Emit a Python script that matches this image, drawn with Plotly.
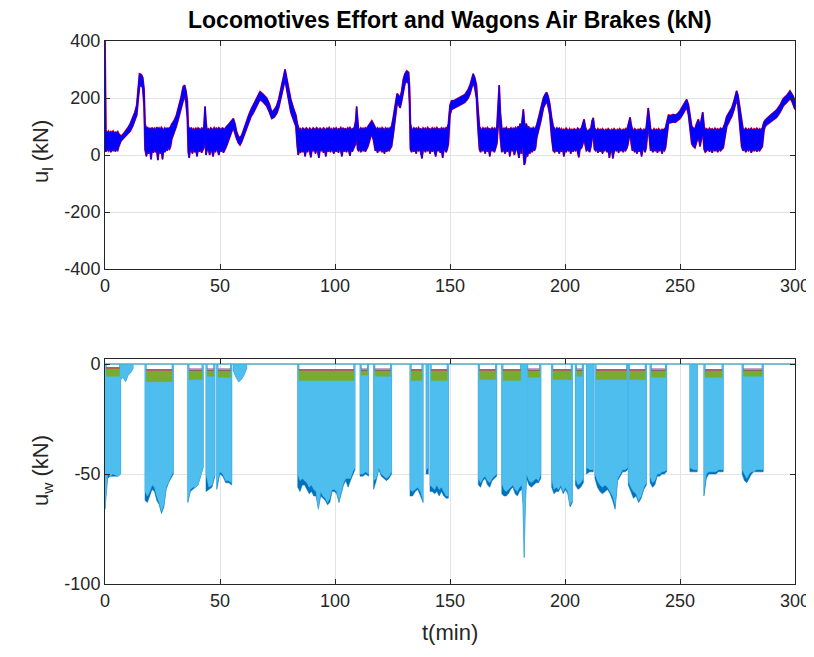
import numpy as np
import plotly.graph_objects as go

# ---------------- Locomotive effort (kN): upper / lower envelope of the noisy traces
t_loco = [
    0, 0.4, 1, 1.5, 2, 2.5, 3, 3.5, 4, 4.5,
    5, 5.5, 6, 6.5, 7, 8, 9, 10, 11, 12,
    13, 13.8, 14.5, 15, 15.8, 16.4, 17, 17.4, 18, 18.5,
    19, 19.5, 20, 20.5, 21, 21.5, 22, 22.5, 23, 23.5,
    24, 24.5, 25, 25.5, 26, 26.5, 27, 27.5, 28, 28.5,
    29, 30, 31, 32, 33, 34, 34.6, 35.2, 35.8, 36.2,
    36.6, 37, 37.5, 38, 38.5, 39, 39.5, 40, 40.5, 41,
    41.5, 42, 42.5, 43, 43.5, 43.9, 44.3, 45, 45.5, 46,
    46.5, 47, 47.5, 48, 48.5, 49, 49.5, 50, 50.5, 51,
    51.5, 52, 52.5, 53, 54, 55, 55.8, 56.5, 57.2, 58,
    58.7, 59.5, 60.5, 61.6, 62.5, 63.5, 64.5, 65.5, 66.5, 67.4,
    68.5, 69.5, 70.3, 71.5, 72.5, 73.5, 74.6, 75.5, 76.8, 77.6,
    78.3, 79, 79.7, 80.8, 81.9, 83, 83.6, 84, 84.5, 85,
    85.5, 86, 86.5, 87, 87.5, 88, 88.5, 89, 89.5, 90,
    90.5, 91, 91.5, 92, 92.5, 93, 93.5, 94, 94.5, 95,
    95.5, 96, 96.5, 97, 97.5, 98, 98.5, 99, 99.5, 100,
    100.5, 101, 101.5, 102, 102.5, 103, 103.5, 104, 104.5, 105,
    105.5, 106, 106.5, 107, 107.5, 108, 108.5, 109, 109.4, 109.8,
    110.2, 110.7, 111.2, 111.7, 112.2, 112.7, 113.2, 113.7, 114.3, 115.2,
    116, 116.8, 117.5, 118, 118.5, 119, 119.5, 120, 120.5, 121,
    121.5, 122, 122.5, 123, 123.5, 124, 124.6, 125.3, 126.2, 127,
    127.6, 128.3, 129, 129.7, 130.4, 131.2, 132, 132.4, 132.8, 133.3,
    133.8, 134.3, 134.8, 135.3, 135.8, 136.3, 136.8, 137.3, 137.8, 138.3,
    138.8, 139.3, 139.8, 140.3, 140.8, 141.3, 141.8, 142.3, 142.8, 143.3,
    143.8, 144.3, 144.8, 145.3, 145.8, 146.3, 146.8, 147.3, 147.8, 148.3,
    148.8, 149.3, 150, 150.7, 152, 153.5, 155, 156.5, 157.8, 158.7,
    159.4, 160.1, 160.8, 161.5, 162.2, 162.8, 163.3, 163.8, 164.3, 164.8,
    165.3, 165.8, 166.3, 166.8, 167.3, 167.8, 168.3, 168.8, 169.3, 169.8,
    170.4, 171, 171.4, 171.9, 172.5, 173, 173.5, 174, 174.5, 175,
    175.5, 176, 176.5, 177, 177.5, 178, 178.5, 179, 179.5, 180,
    180.5, 181, 181.5, 181.9, 182.3, 182.7, 183.2, 183.7, 184.2, 184.7,
    185.2, 185.7, 186.2, 186.7, 187.2, 187.7, 188.5, 189.5, 190.6, 191.3,
    192, 192.7, 193.4, 194.2, 194.9, 195.5, 196, 196.5, 197, 197.5,
    198, 198.5, 199, 199.5, 200, 200.5, 201, 201.5, 202, 202.5,
    203, 203.5, 204, 204.5, 205, 205.5, 206, 206.5, 207.2, 207.8,
    208.3, 208.8, 209.3, 210, 210.7, 211.3, 211.8, 212.3, 212.8, 213.3,
    213.8, 214.3, 214.8, 215.3, 215.8, 216.3, 216.8, 217.3, 217.8, 218.3,
    218.8, 219.3, 219.8, 220.3, 220.8, 221.3, 221.8, 222.3, 222.8, 223.3,
    223.8, 224.3, 224.8, 225.3, 225.8, 226.3, 226.8, 227.3, 227.8, 228.3,
    228.8, 229.3, 229.8, 230.3, 230.8, 231.3, 231.8, 232.3, 232.8, 233.3,
    233.8, 234.3, 234.8, 235.3, 235.8, 236.2, 236.7, 237.2, 237.7, 238.2,
    238.7, 239.2, 239.7, 240.2, 240.7, 241.2, 241.7, 242.2, 242.7, 243.2,
    243.7, 244.4, 245, 246, 247, 248, 249, 250, 251, 252,
    252.9, 253.7, 254.4, 255.1, 255.8, 256.5, 257.2, 258, 258.7, 259.3,
    259.9, 260.5, 261, 261.6, 262.2, 262.8, 263.4, 264, 264.6, 265.2,
    265.8, 266.4, 267, 267.6, 268.2, 268.8, 269.5, 270.3, 271.5, 272.5,
    273.5, 274.2, 274.6, 275.2, 275.9, 276.8, 277.4, 278, 278.6, 279.2,
    279.8, 280.4, 281, 281.6, 282.2, 282.8, 283.4, 284, 284.6, 285.2,
    285.8, 286.5, 287, 288, 289.2, 290.5, 292, 293.5, 294.9, 296.5,
    297.8, 298.6, 299.3, 300,
]
u_upper = [
    400, 85, 78, 84, 76, 82, 79, 84, 75, 80,
    78, 82, 74, 68, 66, 74, 84, 96, 110, 130,
    150, 175, 250, 285, 282, 272, 230, 110, 92, 98,
    88, 95, 85, 96, 90, 94, 86, 98, 90, 95,
    88, 97, 92, 88, 95, 90, 94, 92, 96, 98,
    108, 120, 138, 165, 200, 240, 245, 225, 190, 100,
    92, 88, 96, 85, 92, 88, 94, 86, 95, 90,
    88, 94, 90, 100, 170, 120, 88, 92, 86, 95,
    90, 88, 96, 90, 94, 88, 96, 90, 88, 95,
    92, 90, 96, 100, 110, 120, 128, 110, 82, 65,
    60, 70, 95, 120, 140, 160, 175, 195, 210, 222,
    215, 205, 200, 178, 150, 158, 172, 195, 240, 270,
    300, 270, 235, 195, 165, 140, 110, 95, 88, 92,
    86, 94, 90, 88, 95, 90, 87, 94, 90, 86,
    95, 92, 88, 96, 90, 88, 94, 90, 86, 95,
    92, 88, 94, 90, 96, 88, 92, 86, 94, 90,
    95, 88, 92, 90, 96, 88, 94, 90, 92, 88,
    95, 90, 96, 88, 92, 90, 100, 120, 170, 115,
    92, 88, 95, 90, 94, 88, 96, 92, 100, 112,
    120, 108, 92, 88, 95, 90, 94, 86, 96, 90,
    88, 95, 90, 94, 88, 96, 100, 130, 180, 215,
    210, 200, 225, 265, 285, 295, 290, 240, 110, 92,
    88, 95, 90, 94, 88, 96, 90, 92, 88, 95,
    90, 94, 88, 96, 90, 92, 88, 95, 90, 94,
    88, 96, 90, 92, 88, 95, 90, 94, 88, 96,
    92, 110, 175, 190, 192, 198, 205, 212, 228, 245,
    265, 285, 270, 245, 160, 100, 92, 88, 95, 90,
    94, 88, 96, 90, 92, 88, 95, 90, 94, 88,
    100, 190, 245, 150, 95, 88, 94, 90, 96, 88,
    92, 90, 95, 88, 94, 90, 96, 88, 100, 92,
    110, 95, 130, 160, 120, 95, 110, 92, 100, 88,
    94, 90, 96, 90, 95, 105, 130, 165, 200, 212,
    220, 205, 178, 130, 100, 92, 88, 95, 90, 94,
    86, 92, 84, 90, 86, 94, 88, 84, 92, 86,
    90, 84, 92, 88, 86, 94, 90, 88, 95, 110,
    125, 100, 88, 84, 90, 95, 120, 130, 95, 88,
    84, 92, 86, 90, 84, 92, 88, 84, 90, 86,
    92, 88, 84, 90, 86, 92, 88, 84, 90, 86,
    92, 88, 84, 90, 86, 92, 88, 100, 120, 132,
    105, 90, 86, 92, 88, 84, 90, 86, 92, 88,
    84, 90, 86, 95, 140, 165, 130, 92, 88, 84,
    92, 86, 90, 84, 92, 88, 84, 90, 86, 92,
    95, 120, 140, 138, 142, 140, 145, 155, 168, 182,
    195, 175, 140, 100, 95, 90, 110, 125, 100, 120,
    150, 100, 88, 92, 86, 94, 88, 92, 86, 94,
    88, 92, 86, 94, 90, 95, 110, 135, 150, 165,
    190, 215, 225, 210, 170, 110, 92, 88, 94, 86,
    92, 88, 94, 86, 92, 88, 94, 86, 92, 88,
    95, 115, 122, 130, 140, 148, 158, 175, 198, 210,
    225, 215, 205, 178,
]
u_lower = [
    20, 12, 20, 14, 22, 10, 18, 15, 24, 12,
    20, 16, 30, 45, 50, 58, 66, 74, 84, 100,
    120, 140, 200, 240, 245, 235, 170, 20, -5, 15,
    5, 20, -15, 18, 8, 22, 10, 15, -18, 20,
    5, 18, -15, 20, 10, 22, 15, 25, 20, 30,
    55, 75, 100, 130, 160, 200, 210, 185, 130, 10,
    -10, 15, 20, 5, 22, 10, 18, -5, 20, 12,
    22, 8, 20, 25, 70, 0, 15, 20, 0, 22,
    12, -5, 20, 10, 22, 15, 0, 20, 12, 22,
    8, 20, 25, 35, 60, 80, 95, 75, 58, 42,
    35, 48, 70, 92, 115, 135, 148, 165, 182, 195,
    188, 178, 172, 150, 128, 132, 145, 165, 210, 240,
    265, 230, 200, 150, 125, 100, 30, 0, 15, 8,
    20, 10, 22, -5, 18, 10, 22, 12, -8, 20,
    15, 22, 5, 20, 12, -10, 20, 15, 22, 8,
    20, -5, 18, 12, 22, 10, 20, 15, 5, 20,
    12, 22, 8, 20, 15, -5, 20, 12, 22, 10,
    20, 15, -3, 20, 12, 22, 25, 40, 70, 20,
    15, 22, 10, 20, 15, 22, 12, 20, 30, 55,
    75, 50, 15, 22, 8, 20, 15, 22, 10, 20,
    5, 22, 12, 20, 15, 22, 30, 70, 135, 180,
    178, 165, 190, 225, 250, 260, 250, 180, 20, 10,
    22, 12, 20, 5, 22, 15, 20, 8, -12, 15,
    22, 10, 20, 15, 22, 5, 20, 12, 22, 10,
    -5, 20, 15, 22, 8, 20, -10, 15, 22, 10,
    20, 40, 140, 160, 165, 170, 178, 185, 198, 215,
    235, 255, 235, 200, 90, 20, 10, 22, 15, 20,
    5, 22, 12, 20, -5, 22, 15, 20, 10, 22,
    40, 110, 150, 60, 10, 22, 15, 5, 20, 12,
    22, -5, 20, 15, 22, 0, 18, 22, 10, -10,
    30, 5, 40, -20, -35, -25, 10, -5, 15, 5,
    20, 10, 22, 15, 25, 60, 85, 120, 165, 180,
    190, 170, 140, 60, 15, 10, 22, 12, 20, 5,
    20, 12, 22, -5, 18, 10, 22, 15, 20, 5,
    22, 12, 20, 15, 22, 10, -8, 20, 25, 40,
    60, 35, 15, 20, 10, 30, 60, 70, 20, 15,
    22, 8, 20, 12, 22, 5, 20, 15, 22, 10,
    20, -10, 15, 22, -12, 10, 20, 15, 22, 8,
    20, 15, 22, 10, 20, 15, 22, 35, 60, 80,
    40, 15, 22, 10, 20, 5, 22, 12, 20, -5,
    18, 22, 10, 25, 70, 110, 60, 15, 22, 10,
    20, 15, 22, 8, 20, 15, 22, 5, 20, 15,
    25, 80, 112, 114, 116, 115, 120, 128, 140, 155,
    168, 140, 90, 40, 30, 25, 45, 65, 30, 50,
    80, 20, 10, 15, 22, 12, 20, 8, 22, 15,
    20, 10, 22, 15, 20, 25, 60, 100, 120, 135,
    160, 185, 195, 175, 120, 30, 15, 22, 10, 20,
    15, 22, 8, 20, 15, 22, 12, 20, 15, 22,
    30, 85, 100, 108, 115, 122, 132, 150, 172, 185,
    198, 190, 178, 160,
]

# ---------------- Wagon air brakes (kN): braking episodes
brake_start = [0.0, 6.8, 17.4, 36.0, 43.9, 48.6, 55.8, 83.8, 110.9, 116.8, 132.6, 139.6, 141.3,
               162.3, 172.5, 181.2, 183.3, 194.2, 204.5, 209.3, 213.0, 227.5, 237.0, 254.3, 260.4, 277.0]
brake_end = [6.8, 12.2, 29.7, 42.7, 47.8, 55.1, 61.6, 108.7, 114.6, 124.6, 138.3, 140.6, 149.3,
             170.3, 181.2, 183.3, 189.5, 203.2, 208.0, 212.3, 227.3, 235.4, 244.2, 257.5, 268.8, 286.2]
# floor of the light-blue wagons
brake_floor = [
    [-65, -50, -51, -50, -50.5, -51, -50],
    [-7, -6, -8, -5, -4, -2],
    [-58, -60, -58, -55, -56, -60, -63, -67, -64, -56, -53, -51, -49],
    [-62, -57, -56, -56, -55, -51, -47],
    [-50, -56, -55, -50],
    [-55, -49, -50, -53, -53, -54],
    [-3, -6, -8, -7, -5, -2],
    [-50, -53, -52, -53, -54, -56, -55, -57, -58, -66, -58, -60, -61, -63, -61, -57, -57,
     -58, -62, -58, -54, -52, -52, -52, -49, -47],
    [-50, -50, -49, -50],
    [-53, -52, -47, -50, -51, -52, -51, -49],
    [-57, -58, -57, -56, -58, -62],
    [-48, -47],
    [-55, -56, -57, -55, -57, -56, -58, -60, -60],
    [-52, -54, -52, -51, -53, -54, -52, -51, -50],
    [-54, -57, -58, -57, -56, -55, -57, -58, -56, -55],
    [-55, -62, -86, -62, -50],
    [-50, -53, -54, -53, -52, -53, -50],
    [-52, -57, -56, -57, -55, -58, -56, -58, -64, -62],
    [-52, -55, -54, -52],
    [-47, -48, -48],
    [-50, -53, -55, -56, -55, -56, -58, -60, -64, -52, -50, -48, -48, -47],
    [-53, -56, -58, -59, -62, -60, -56, -54],
    [-51, -54, -53, -50, -50, -49, -49, -48],
    [-47, -48, -48],
    [-58, -50, -49, -49, -49, -49, -48, -48, -48],
    [-48, -50, -52, -50, -49, -49, -48, -48, -48, -48],
]
# deepest (dark-blue) wagons
brake_deep = [
    [-66, -52, -51, -51, -51, -51, -50],
    [-7, -6, -8, -5, -4, -2],
    [-62, -63, -60, -57, -58, -62, -64, -68, -65, -57, -54, -52, -50],
    [-63, -58, -57, -56, -55, -51, -47],
    [-58, -57, -56, -51],
    [-57, -50, -51, -54, -54, -55],
    [-3, -6, -8, -7, -5, -2],
    [-56, -58, -55, -55, -57, -59, -58, -60, -60, -66, -60, -61, -62, -64, -63, -58, -58,
     -59, -63, -59, -55, -53, -56, -53, -50, -48],
    [-51, -51, -50, -51],
    [-57, -53, -48, -51, -52, -53, -52, -50],
    [-60, -60, -58, -57, -60, -63],
    [-50, -50],
    [-58, -58, -59, -58, -60, -58, -60, -61, -61],
    [-55, -56, -53, -52, -55, -56, -53, -52, -51],
    [-59, -60, -60, -59, -57, -56, -59, -60, -58, -57],
    [-56, -64, -88, -64, -52],
    [-52, -55, -56, -55, -54, -54, -52],
    [-56, -59, -58, -58, -56, -59, -57, -59, -65, -63],
    [-55, -57, -56, -54],
    [-50, -49, -49],
    [-52, -56, -58, -59, -58, -57, -59, -62, -66, -53, -51, -49, -49, -48],
    [-55, -58, -61, -60, -63, -61, -57, -55],
    [-54, -56, -55, -51, -51, -50, -50, -49],
    [-49, -49, -49],
    [-60, -52, -50, -50, -50, -50, -49, -49, -49],
    [-50, -53, -54, -52, -50, -49, -49, -49, -49, -49],
]
# lightest wagons: top of the braking band and bottom of the green band
brake_cap = [-1.8, 0, -2.7, -2.5, -2.5, -2.5, 0, -2.7, -2.5, -2.5, -2.7, 0, -2.7,
             -2.7, -2.7, 0, -2.5, -2.7, -2.5, 0, -2.7, -2.7, -2.5, 0, -2.7, -2.5]
brake_strip = [-5.5, 0, -8, -7, -5.5, -6, 0, -7.5, -5, -5.5, -7.5, 0, -7.5,
               -7, -7.5, 0, -6, -7, -5.5, 0, -7, -7, -6, 0, -6, -5.5]
rest_t = [0, 300]
rest_u = [0, 0]

x_ticks = [0, 50, 100, 150, 200, 250, 300]
y1_ticks = [-400, -200, 0, 200, 400]
y2_ticks = [-100, -50, 0]

EDGE = 0.5


def band_polygons(profiles):
    xs, ys = [], []
    for s, e, prof, cap in zip(brake_start, brake_end, profiles, brake_cap):
        tt = np.linspace(s, e, len(prof))
        px = [s] + list(tt) + [e]
        py = [0] + list(prof) + [0]
        if cap < 0:
            px += [e - EDGE, e - EDGE, s + EDGE, s + EDGE]
            py += [0, cap, cap, 0]
        xs += px + [None]
        ys += py + [None]
    return xs, ys


def strip_polygons():
    xs, ys, lx, ly = [], [], [], []
    for s, e, cap, st in zip(brake_start, brake_end, brake_cap, brake_strip):
        if st < 0:
            xs += [s + EDGE, e - EDGE, e - EDGE, s + EDGE, None]
            ys += [cap, cap, st, st, None]
            lx += [s + EDGE, e - EDGE, None]
            ly += [cap, cap, None]
    return xs, ys, lx, ly


fig = go.Figure()

common = dict(mode='lines', showlegend=False, hoverinfo='skip')
# red locomotive
fig.add_trace(go.Scatter(x=t_loco, y=u_lower, line=dict(color='#FF0000', width=1.8), **common))
fig.add_trace(go.Scatter(x=t_loco, y=u_upper, line=dict(color='#FF0000', width=1.8),
                         fill='tonexty', fillcolor='#FF0000', **common))
# blue locomotive
fig.add_trace(go.Scatter(x=t_loco, y=u_lower, line=dict(color='#0000FF', width=1), **common))
fig.add_trace(go.Scatter(x=t_loco, y=u_upper, line=dict(color='#0000FF', width=1),
                         fill='tonexty', fillcolor='#0000FF', **common))

# wagons
dx, dy = band_polygons(brake_deep)
fig.add_trace(go.Scatter(x=dx, y=dy, fill='toself', fillcolor='#0072BD',
                         line=dict(color='#0072BD', width=0.5), xaxis='x2', yaxis='y2', **common))
lx_, ly_ = band_polygons(brake_floor)
fig.add_trace(go.Scatter(x=lx_, y=ly_, fill='toself', fillcolor='#4DBEEE',
                         line=dict(color='#4DBEEE', width=0.5), xaxis='x2', yaxis='y2', **common))
sx, sy, tx, ty = strip_polygons()
fig.add_trace(go.Scatter(x=sx, y=sy, fill='toself', fillcolor='#77AC30',
                         line=dict(color='#77AC30', width=0.5), xaxis='x2', yaxis='y2', **common))
fig.add_trace(go.Scatter(x=tx, y=ty, line=dict(color='#7E2F8E', width=2), xaxis='x2', yaxis='y2', **common))
fig.add_trace(go.Scatter(x=tx, y=ty, line=dict(color='#EDB120', width=0.8), xaxis='x2', yaxis='y2', **common))
fig.add_trace(go.Scatter(x=rest_t, y=rest_u, line=dict(color='#55AEC8', width=1.6),
                         xaxis='x2', yaxis='y2', **common))

# page body has an 8 px margin: work in page pixels, convert to figure fractions
OFF = 8
W, H = 814 - OFF, 657 - OFF


def fx(px):
    return (px - OFF) / W


def fy(py):
    return 1 - (py - OFF) / H


xdom = [fx(105), fx(795)]
FONT = 'Liberation Sans'
TXT = '#262626'

ax_common = dict(showline=True, linecolor=TXT, linewidth=1, mirror='ticks', ticks='inside',
                 ticklen=5, tickcolor=TXT, showgrid=True, gridcolor='#E3E3E3', gridwidth=1,
                 zeroline=False, tickfont=dict(family=FONT, size=18, color=TXT), automargin=False,
                 ticklabeloverflow='allow')

fig.update_layout(
    width=W, height=H, margin=dict(l=0, r=0, t=0, b=0),
    paper_bgcolor='white', plot_bgcolor='white', showlegend=False,
    xaxis=dict(domain=xdom, range=[0, 300], tickvals=x_ticks, ticktext=[str(v) for v in x_ticks],
               anchor='y', **ax_common),
    yaxis=dict(domain=[fy(269), fy(41)], range=[-400, 400], tickvals=y1_ticks,
               ticktext=[str(v) for v in y1_ticks], anchor='x', **ax_common),
    xaxis2=dict(domain=xdom, range=[0, 300], tickvals=x_ticks, ticktext=[str(v) for v in x_ticks],
                anchor='y2', **ax_common),
    yaxis2=dict(domain=[fy(584), fy(359)], range=[-100, 2.3], tickvals=y2_ticks,
                ticktext=[str(v) for v in y2_ticks], anchor='x2', **ax_common),
    annotations=[
        dict(text='<b>Locomotives Effort and Wagons Air Brakes (kN)</b>', x=fx(450), y=fy(20),
             xref='paper', yref='paper', showarrow=False, xanchor='center', yanchor='middle',
             font=dict(family=FONT, size=23, color='black')),
        dict(text='u<sub>l</sub> (kN)', x=fx(42), y=fy(152), xref='paper', yref='paper',
             showarrow=False, textangle=-90, xanchor='center', yanchor='middle',
             font=dict(family=FONT, size=22, color=TXT)),
        dict(text='u<sub>w</sub> (kN)', x=fx(42), y=fy(471), xref='paper', yref='paper',
             showarrow=False, textangle=-90, xanchor='center', yanchor='middle',
             font=dict(family=FONT, size=22, color=TXT)),
        dict(text='t(min)', x=fx(450), y=fy(632), xref='paper', yref='paper',
             showarrow=False, xanchor='center', yanchor='middle',
             font=dict(family=FONT, size=22, color=TXT)),
    ],
)

fig.write_html('out.html')
